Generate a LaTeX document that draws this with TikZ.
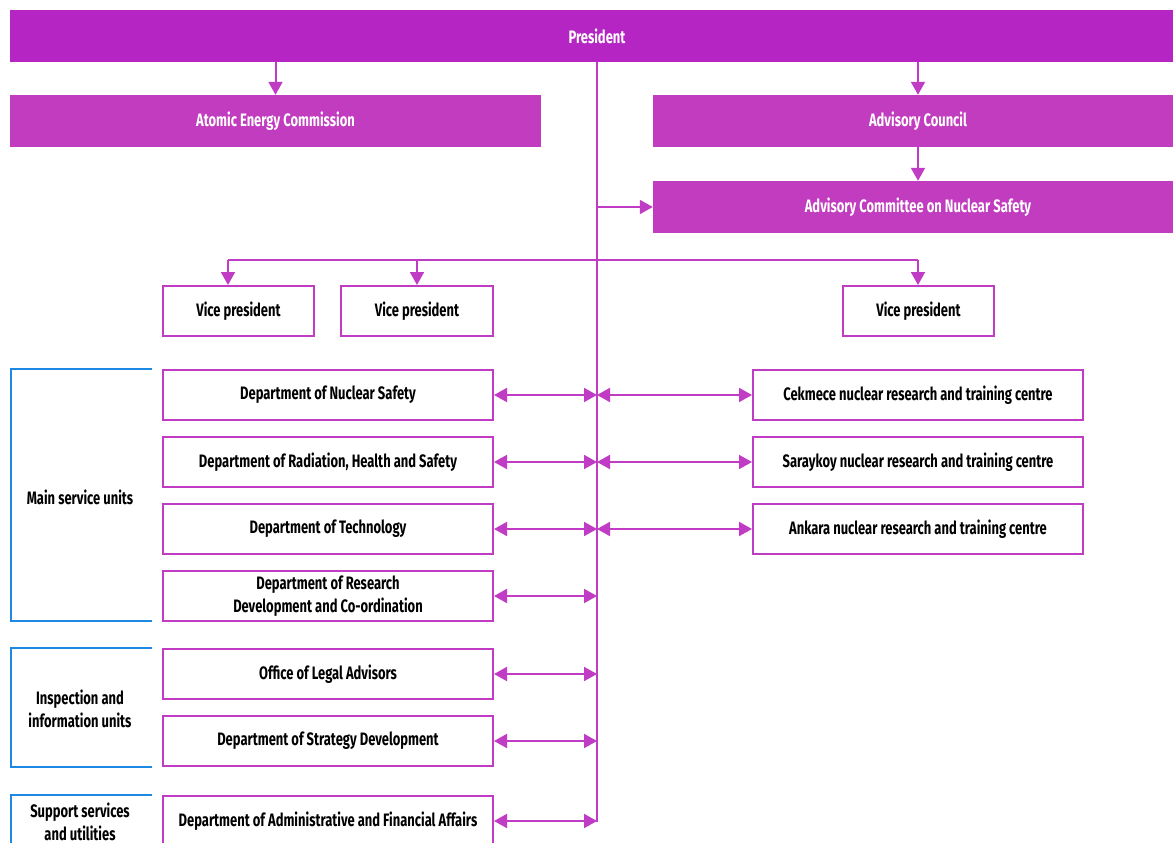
\documentclass[tikz,border=0pt]{standalone}
\usepackage{fontspec}
\setmainfont{Fira Sans}[FakeStretch=0.72]
\usetikzlibrary{arrows.meta}
\definecolor{presc}{HTML}{B425C4}
\definecolor{boxc}{HTML}{C23CC0}
\definecolor{linec}{HTML}{C03CC4}
\definecolor{bluec}{HTML}{1E88E5}
\tikzset{
  lbl/.style={font=\bfseries\fontsize{18}{23}\selectfont, align=center, inner sep=0pt},
  filledbox/.style={lbl, fill=boxc, text=white, draw=none, minimum height=52pt},
  presbox/.style={filledbox, fill=presc},
  unitbox/.style={lbl, draw=linec, line width=2pt, fill=white, minimum height=50pt},
  conn/.style={draw=linec, line width=2pt},
  arr/.style={conn, -{Triangle[length=13pt,width=14pt]}},
  darr/.style={conn, {Triangle[length=13pt,width=14pt]}-{Triangle[length=13pt,width=14pt]}},
  bracket/.style={draw=bluec, line width=2pt},
}
\begin{document}
\begin{tikzpicture}[x=1pt,y=-1pt]
\useasboundingbox (0,0) rectangle (1173,843);
\begin{scope}
\clip (0,0) rectangle (1173,843);
% top filled boxes
\node[presbox, minimum width=1174pt] (pres) at (597,36) {President};
\node[filledbox, minimum width=531pt] (aec) at (275.5,121) {Atomic Energy Commission};
\node[filledbox, minimum width=530pt] (ac) at (918,121) {Advisory Council};
\node[filledbox, minimum width=530pt] (acns) at (918,207) {Advisory Committee on Nuclear Safety};
% vice presidents
\node[unitbox, minimum width=151pt] (vp1) at (238.5,311) {Vice president};
\node[unitbox, minimum width=152pt] (vp2) at (417,311) {Vice president};
\node[unitbox, minimum width=151pt] (vp3) at (918.5,311) {Vice president};
% left departments
\node[unitbox, minimum width=330pt] (d1) at (328,395) {Department of Nuclear Safety};
\node[unitbox, minimum width=330pt] (d2) at (328,462) {Department of Radiation, Health and Safety};
\node[unitbox, minimum width=330pt] (d3) at (328,529) {Department of Technology};
\node[unitbox, minimum width=330pt] (d4) at (328,596) {Department of Research\\Development and Co-ordination};
\node[unitbox, minimum width=330pt] (d5) at (328,674) {Office of Legal Advisors};
\node[unitbox, minimum width=330pt] (d6) at (328,741) {Department of Strategy Development};
\node[unitbox, minimum width=330pt] (d7) at (328,821) {Department of Administrative and Financial Affairs};
% right centres
\node[unitbox, minimum width=330pt] (c1) at (918,395) {Cekmece nuclear research and training centre};
\node[unitbox, minimum width=330pt] (c2) at (918,462) {Saraykoy nuclear research and training centre};
\node[unitbox, minimum width=330pt] (c3) at (918,529) {Ankara nuclear research and training centre};
% trunk
\coordinate (tb) at (597,822);
\draw[conn] (pres.south) -- (tb);
% arrows from president
\draw[arr] (pres.south -| aec.north) -- (aec.north);
\draw[arr] (pres.south -| ac.north) -- (ac.north);
\draw[arr] (ac.south) -- (acns.north);
\draw[arr] (acns.west -| pres.south) -- (acns.west);
% vice president bar
\coordinate (a1) at (228,260);
\coordinate (a2) at (417,260);
\coordinate (a3) at (918,260);
\draw[conn] (a1) -- (a3);
\draw[arr] (a1) -- (a1 |- vp1.north);
\draw[arr] (a2) -- (vp2.north);
\draw[arr] (a3) -- (a3 |- vp3.north);
% double arrows left
\foreach \n in {d1,d2,d3,d4,d5,d6,d7}
  \draw[darr] (\n.east) -- (\n.east -| tb);
% double arrows right
\foreach \n in {c1,c2,c3}
  \draw[darr] (\n.west -| tb) -- (\n.west);
% blue brackets
\draw[bracket] (152,369) -- (11,369) -- (11,621) -- (152,621);
\node[lbl] (u1) at (80,497) {Main service units};
\draw[bracket] (152,648) -- (11,648) -- (11,767) -- (152,767);
\node[lbl] (u2) at (80,709) {Inspection and\\information units};
\draw[bracket] (152,795) -- (11,795) -- (11,860);
\node[lbl] (u3) at (80,822) {Support services\\and utilities};
\end{scope}
\end{tikzpicture}
\end{document}
